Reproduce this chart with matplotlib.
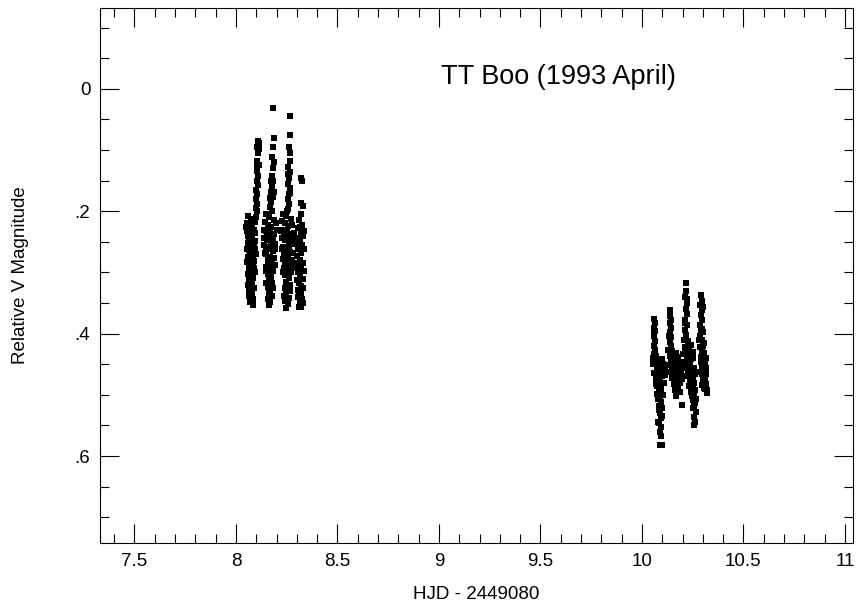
import numpy as np
import matplotlib
matplotlib.use("Agg")
import matplotlib.pyplot as plt
from matplotlib.ticker import MultipleLocator, FuncFormatter

plt.rcParams["font.family"] = ["Liberation Sans", "DejaVu Sans"]

# (HJD - 2449080, relative V mag), night 1 (four humps)
night1_a = [(8.108, 0.085), (8.112, 0.088), (8.105, 0.095), (8.110, 0.105), (8.106, 0.118),
            (8.111, 0.125), (8.104, 0.135), (8.109, 0.142), (8.103, 0.150), (8.108, 0.158),
            (8.101, 0.165), (8.106, 0.172), (8.100, 0.180), (8.104, 0.188), (8.098, 0.195),
            (8.102, 0.200), (8.060, 0.208), (8.072, 0.212), (8.085, 0.215), (8.052, 0.220),
            (8.066, 0.222), (8.094, 0.218), (8.078, 0.226), (8.056, 0.232), (8.088, 0.230),
            (8.070, 0.236), (8.062, 0.242), (8.080, 0.245), (8.095, 0.248), (8.058, 0.252),
            (8.072, 0.256), (8.088, 0.259), (8.064, 0.263), (8.083, 0.267), (8.097, 0.270),
            (8.060, 0.274), (8.076, 0.278), (8.090, 0.281), (8.066, 0.285), (8.082, 0.289),
            (8.062, 0.294), (8.078, 0.297), (8.092, 0.300), (8.068, 0.305), (8.085, 0.309),
            (8.064, 0.313), (8.079, 0.317), (8.070, 0.322), (8.088, 0.325), (8.066, 0.330),
            (8.080, 0.334), (8.072, 0.340), (8.086, 0.344), (8.070, 0.349), (8.082, 0.353),
            (8.050, 0.226), (8.058, 0.240), (8.068, 0.248), (8.054, 0.262), (8.070, 0.268),
            (8.086, 0.273), (8.056, 0.283), (8.072, 0.290), (8.088, 0.292), (8.058, 0.302),
            (8.074, 0.308), (8.060, 0.320), (8.076, 0.326), (8.062, 0.338), (8.078, 0.346),
            (8.092, 0.236), (8.098, 0.210), (8.096, 0.262), (8.113, 0.098), (8.102, 0.128)]
night1_b = [(8.184, 0.031), (8.186, 0.080), (8.182, 0.095), (8.178, 0.112), (8.185, 0.120),
            (8.180, 0.130), (8.176, 0.142), (8.183, 0.150), (8.178, 0.160), (8.173, 0.168),
            (8.181, 0.176), (8.175, 0.185), (8.170, 0.193), (8.178, 0.200), (8.150, 0.205),
            (8.165, 0.210), (8.185, 0.214), (8.142, 0.218), (8.158, 0.222), (8.174, 0.226),
            (8.195, 0.220), (8.148, 0.232), (8.168, 0.236), (8.188, 0.238), (8.140, 0.244),
            (8.155, 0.247), (8.172, 0.250), (8.190, 0.253), (8.146, 0.258), (8.162, 0.262),
            (8.180, 0.265), (8.150, 0.270), (8.168, 0.274), (8.186, 0.277), (8.156, 0.282),
            (8.174, 0.286), (8.150, 0.291), (8.166, 0.295), (8.182, 0.298), (8.158, 0.303),
            (8.174, 0.307), (8.162, 0.313), (8.178, 0.318), (8.156, 0.324), (8.170, 0.328),
            (8.162, 0.334), (8.176, 0.338), (8.158, 0.344), (8.170, 0.349), (8.164, 0.354),
            (8.138, 0.230), (8.152, 0.240), (8.164, 0.244), (8.182, 0.244), (8.140, 0.256),
            (8.172, 0.258), (8.190, 0.262), (8.144, 0.268), (8.160, 0.279), (8.178, 0.282),
            (8.192, 0.288), (8.146, 0.298), (8.168, 0.312), (8.150, 0.318), (8.166, 0.340),
            (8.180, 0.326), (8.174, 0.150), (8.186, 0.168), (8.168, 0.178), (8.200, 0.230)]
night1_c = [(8.266, 0.044), (8.266, 0.075), (8.262, 0.095), (8.268, 0.105), (8.264, 0.118),
            (8.258, 0.128), (8.266, 0.136), (8.262, 0.146), (8.256, 0.155), (8.264, 0.162),
            (8.260, 0.172), (8.254, 0.180), (8.262, 0.188), (8.258, 0.196), (8.232, 0.204),
            (8.248, 0.208), (8.270, 0.212), (8.225, 0.216), (8.240, 0.220), (8.258, 0.224),
            (8.278, 0.222), (8.230, 0.230), (8.252, 0.234), (8.270, 0.238), (8.226, 0.244),
            (8.242, 0.247), (8.262, 0.250), (8.280, 0.254), (8.232, 0.258), (8.250, 0.262),
            (8.268, 0.266), (8.236, 0.271), (8.256, 0.275), (8.274, 0.279), (8.240, 0.284),
            (8.260, 0.288), (8.236, 0.293), (8.254, 0.297), (8.270, 0.300), (8.242, 0.305),
            (8.260, 0.309), (8.246, 0.315), (8.264, 0.320), (8.240, 0.326), (8.256, 0.330),
            (8.246, 0.336), (8.262, 0.341), (8.242, 0.347), (8.256, 0.352), (8.248, 0.358),
            (8.222, 0.232), (8.236, 0.240), (8.254, 0.244), (8.272, 0.246), (8.226, 0.262),
            (8.260, 0.258), (8.280, 0.268), (8.230, 0.278), (8.248, 0.282), (8.268, 0.290),
            (8.230, 0.300), (8.280, 0.292), (8.250, 0.322), (8.236, 0.338), (8.252, 0.344),
            (8.268, 0.330), (8.256, 0.140), (8.268, 0.170), (8.252, 0.200), (8.284, 0.236)]
night1_d = [(8.322, 0.145), (8.326, 0.150), (8.330, 0.192), (8.318, 0.205), (8.312, 0.215),
            (8.326, 0.222), (8.305, 0.228), (8.318, 0.235), (8.330, 0.240), (8.300, 0.244),
            (8.314, 0.250), (8.326, 0.256), (8.306, 0.262), (8.320, 0.268), (8.300, 0.273),
            (8.314, 0.279), (8.328, 0.284), (8.308, 0.290), (8.322, 0.295), (8.304, 0.300),
            (8.316, 0.306), (8.328, 0.311), (8.310, 0.317), (8.322, 0.322), (8.306, 0.328),
            (8.318, 0.333), (8.312, 0.339), (8.324, 0.344), (8.316, 0.350), (8.322, 0.356),
            (8.296, 0.254), (8.334, 0.262), (8.296, 0.284), (8.334, 0.298), (8.300, 0.312),
            (8.332, 0.326), (8.304, 0.340), (8.330, 0.350), (8.310, 0.356), (8.322, 0.186),
            (8.316, 0.226), (8.336, 0.232)]

# night 2
night2_e = [(10.060, 0.376), (10.064, 0.382), (10.058, 0.390), (10.066, 0.396), (10.060, 0.404),
            (10.064, 0.412), (10.058, 0.420), (10.066, 0.426), (10.062, 0.434), (10.056, 0.440),
            (10.074, 0.442), (10.090, 0.446), (10.066, 0.450), (10.082, 0.452), (10.104, 0.450),
            (10.072, 0.458), (10.094, 0.460), (10.116, 0.458), (10.078, 0.466), (10.100, 0.470),
            (10.070, 0.474), (10.088, 0.478), (10.108, 0.480), (10.076, 0.486), (10.096, 0.490),
            (10.082, 0.496), (10.102, 0.500), (10.078, 0.506), (10.092, 0.512), (10.084, 0.518),
            (10.098, 0.522), (10.088, 0.530), (10.094, 0.538), (10.086, 0.546), (10.096, 0.552),
            (10.090, 0.560), (10.092, 0.568), (10.088, 0.582), (10.098, 0.582),
            (10.054, 0.450), (10.062, 0.464), (10.084, 0.470), (10.112, 0.468), (10.068, 0.482),
            (10.086, 0.486), (10.072, 0.498), (10.090, 0.504), (10.084, 0.524), (10.100, 0.534),
            (10.068, 0.436), (10.100, 0.442), (10.080, 0.544), (10.062, 0.400)]
night2_f = [(10.138, 0.361), (10.140, 0.372), (10.136, 0.382), (10.142, 0.390), (10.138, 0.398),
            (10.144, 0.406), (10.136, 0.414), (10.142, 0.420), (10.130, 0.426), (10.150, 0.428),
            (10.166, 0.432), (10.136, 0.436), (10.158, 0.440), (10.180, 0.438), (10.144, 0.446),
            (10.170, 0.448), (10.192, 0.446), (10.132, 0.452), (10.154, 0.456), (10.178, 0.458),
            (10.200, 0.454), (10.140, 0.462), (10.164, 0.466), (10.188, 0.464), (10.148, 0.472),
            (10.172, 0.476), (10.196, 0.474), (10.156, 0.482), (10.180, 0.486), (10.162, 0.492),
            (10.186, 0.496), (10.170, 0.502), (10.196, 0.517),
            (10.146, 0.434), (10.174, 0.440), (10.160, 0.448), (10.186, 0.454), (10.146, 0.458),
            (10.168, 0.460), (10.194, 0.462), (10.152, 0.466), (10.178, 0.468), (10.160, 0.476),
            (10.188, 0.480), (10.166, 0.486), (10.176, 0.496), (10.144, 0.378), (10.132, 0.404)]
night2_g = [(10.216, 0.318), (10.218, 0.330), (10.214, 0.340), (10.220, 0.350), (10.216, 0.360),
            (10.222, 0.368), (10.214, 0.378), (10.220, 0.386), (10.212, 0.394), (10.218, 0.402),
            (10.206, 0.410), (10.226, 0.412), (10.240, 0.418), (10.212, 0.422), (10.232, 0.428),
            (10.250, 0.430), (10.204, 0.434), (10.222, 0.438), (10.244, 0.442), (10.214, 0.448),
            (10.236, 0.452), (10.256, 0.456), (10.226, 0.462), (10.246, 0.466), (10.218, 0.470),
            (10.238, 0.476), (10.258, 0.480), (10.232, 0.486), (10.250, 0.490), (10.240, 0.496),
            (10.258, 0.500), (10.250, 0.508), (10.262, 0.514), (10.254, 0.522), (10.266, 0.528),
            (10.258, 0.536), (10.262, 0.544), (10.256, 0.549),
            (10.210, 0.430), (10.230, 0.436), (10.252, 0.440), (10.220, 0.456), (10.244, 0.458),
            (10.262, 0.466), (10.228, 0.470), (10.250, 0.474), (10.244, 0.484), (10.262, 0.492),
            (10.248, 0.502), (10.266, 0.506), (10.224, 0.344), (10.210, 0.382), (10.258, 0.518)]
night2_h = [(10.290, 0.337), (10.294, 0.346), (10.288, 0.354), (10.296, 0.362), (10.290, 0.370),
            (10.298, 0.378), (10.286, 0.386), (10.296, 0.392), (10.302, 0.398), (10.288, 0.404),
            (10.298, 0.410), (10.306, 0.416), (10.284, 0.422), (10.296, 0.428), (10.308, 0.432),
            (10.290, 0.438), (10.302, 0.444), (10.312, 0.448), (10.294, 0.454), (10.306, 0.460),
            (10.298, 0.466), (10.310, 0.472), (10.302, 0.478), (10.316, 0.482), (10.306, 0.488),
            (10.320, 0.492), (10.323, 0.497),
            (10.282, 0.410), (10.300, 0.420), (10.292, 0.446), (10.316, 0.456), (10.300, 0.470),
            (10.318, 0.466), (10.294, 0.484), (10.312, 0.490), (10.300, 0.356), (10.292, 0.396),
            (10.318, 0.440), (10.284, 0.462)]

title = "TT Boo (1993 April)"


def mag_label(v, pos):
    """0 -> '0', 0.2 -> '.2' like the old plotting package did"""
    if abs(v) < 1e-9:
        return "0"
    return f"{v:.1f}".replace("0.", ".")


fig = plt.figure(figsize=(8.56, 6.13), dpi=100)
ax = fig.add_axes([0.1168, 0.1142, 0.8797, 0.8728])

for grp in [night1_a, night1_b, night1_c, night1_d, night2_e, night2_f, night2_g, night2_h]:
    pts = np.array(grp)
    ax.plot(pts[:, 0], pts[:, 1], "s", color="black", ms=4.2, mew=0)

ax.set_xlim(7.33, 11.04)
ax.set_ylim(0.742, -0.132)

ax.xaxis.set_major_locator(MultipleLocator(0.5))
ax.xaxis.set_minor_locator(MultipleLocator(0.1))
ax.xaxis.set_major_formatter(FuncFormatter(lambda v, p: f"{v:g}"))
ax.yaxis.set_major_locator(MultipleLocator(0.2))
ax.yaxis.set_minor_locator(MultipleLocator(0.05))
ax.yaxis.set_major_formatter(FuncFormatter(mag_label))

ax.tick_params(which="both", direction="in", top=True, right=True, width=0.8, color="black")
ax.tick_params(which="major", length=13.5, labelsize=13.5, pad=7)
ax.tick_params(which="minor", length=6.5)
for s in ax.spines.values():
    s.set_linewidth(0.8)

ax.text(9.59, -0.019, title, ha="center", va="center", fontsize=19.5)
ax.set_xlabel("HJD - 2449080", fontsize=13.5, labelpad=12)
ax.set_ylabel("Relative V Magnitude", fontsize=13.5, labelpad=33)

fig.savefig("out.png", dpi=100)
